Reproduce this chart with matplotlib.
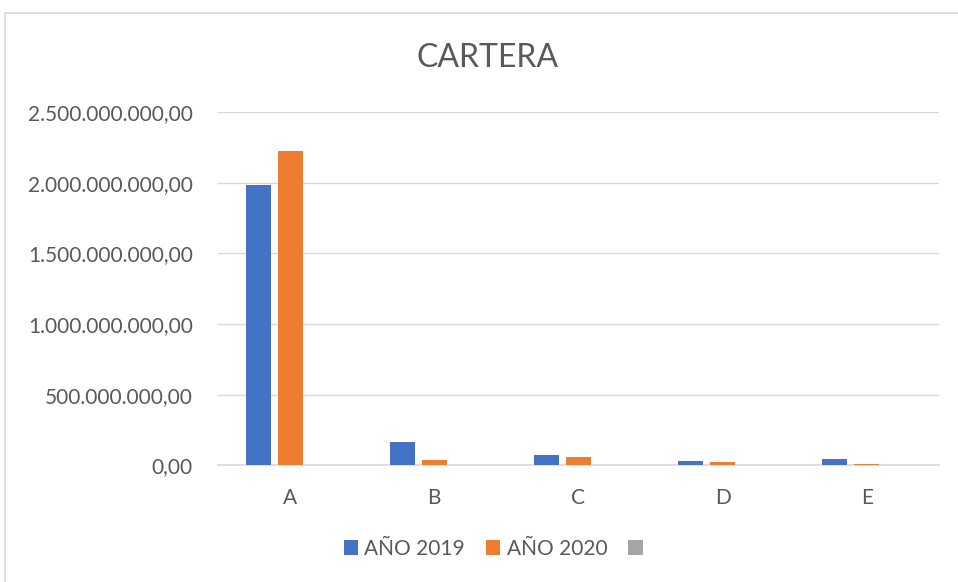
import matplotlib
matplotlib.use("Agg")
import matplotlib.pyplot as plt
from matplotlib.patches import Rectangle
import numpy as np

categories = ["A", "B", "C", "D", "E"]
series_names = ["AÑO 2019", "AÑO 2020", " "]
values_2019 = [1981e6, 163e6, 73e6, 30e6, 45e6]
values_2020 = [2221e6, 40e6, 59e6, 23e6, 9e6]
values_3 = [0, 0, 0, 0, 0]
yticks = [0, 500e6, 1000e6, 1500e6, 2000e6, 2500e6]
colors = ["#4472C4", "#ED7D31", "#A5A5A5"]

W, H = 958, 582
fig = plt.figure(figsize=(W / 100, H / 100), dpi=100)
font = ["Lato", "DejaVu Sans"]
plt.rcParams["font.family"] = font

# chart border (cropped on right/bottom)
fig.patches.append(Rectangle((4.5 / W, 0 - 0.01), 1.2, 1 - 12.5 / H + 0.01,
                             transform=fig.transFigure, fill=False,
                             edgecolor="#D9D9D9", linewidth=1.2))

left, right = 218 / W, 939 / W
bottom, top = 1 - 465.3 / H, 1 - 112 / H
ax = fig.add_axes([left, bottom, right - left, top - bottom])

x = np.arange(len(categories))
step = 32 / 144
bw = 25 / 144
for i, (vals, c, name) in enumerate(zip([values_2019, values_2020, values_3], colors, series_names)):
    ax.bar(x + (i - 1) * step, vals, width=bw, color=c, label=name, zorder=3)

ax.set_xlim(-0.5, len(categories) - 0.5)
ax.set_ylim(0, 2500e6)
ax.set_yticks(yticks)

def fmt(v):
    s = f"{int(round(v)):,}".replace(",", ".")
    return s + ",00"

ax.set_yticklabels([fmt(v) for v in yticks])
ax.set_xticks(x)
ax.set_xticklabels(categories)
ax.tick_params(axis="both", length=0, labelsize=15, colors="#595959")
ax.tick_params(axis="y", pad=18)
ax.tick_params(axis="x", pad=16)
ax.grid(axis="y", color="#D9D9D9", linewidth=1, zorder=0)
for s in ["top", "right", "left"]:
    ax.spines[s].set_visible(False)
ax.spines["bottom"].set_color("#D9D9D9")
ax.spines["bottom"].set_linewidth(1.2)

fig.text(487 / W, 1 - 58 / H, "CARTERA", ha="center", va="center",
         fontsize=23, color="#595959", family=font)

handles, labels = ax.get_legend_handles_labels()
leg = fig.legend(handles, labels, loc="center", bbox_to_anchor=(499 / W, 1 - 549 / H),
                 ncol=3, frameon=False, fontsize=15, handlelength=0.7, handleheight=0.7,
                 handletextpad=0.3, columnspacing=1.0, labelcolor="#595959")

fig.savefig("out.png", dpi=100, facecolor="white")
